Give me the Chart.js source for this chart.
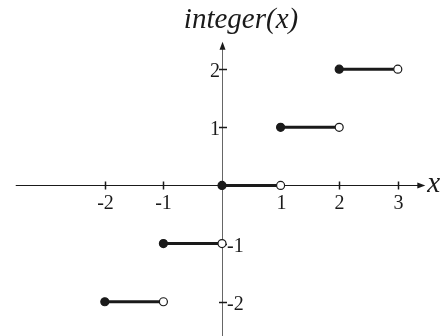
<!DOCTYPE html>
<html lang="en">
<head>
  <meta charset="UTF-8" />
  <title>integer(x)</title>
  <script src="https://cdn.jsdelivr.net/npm/chart.js"></script>
  <style>
    body { margin: 0; background: #fff; }
    canvas#stepChart { display: block; }
  </style>
</head>
<body>
  <canvas id="stepChart" width="445" height="336"></canvas>
  <script>
    // floor steps: each piece runs [start, end) at a constant value
    const stepStarts = [-2, -1, 0, 1, 2];
    const stepEnds = [-1, 0, 1, 2, 3];
    const stepValues = [-2, -1, 0, 1, 2];

    const xTicks = [-2, -1, 1, 2, 3];
    const yTicks = [-2, -1, 1, 2];

    const ink = '#1a1a1a';
    const serif = '"Liberation Serif", "DejaVu Serif", serif';

    const datasets = stepStarts.map((s, i) => ({
      data: [{ x: s, y: stepValues[i] }, { x: stepEnds[i], y: stepValues[i] }],
      showLine: true,
      borderColor: ink,
      borderWidth: 3,
      pointRadius: 4,
      pointBorderWidth: 1.2,
      pointBorderColor: ink,
      pointBackgroundColor: [ink, '#ffffff']
    }));

    // hand-drawn axes through the origin, with arrows and tick labels
    const axesPlugin = {
      id: 'axes',
      beforeDatasetsDraw(chart) {
        const { ctx, scales: { x, y } } = chart;
        const x0 = Math.round(x.getPixelForValue(0));
        const y0 = Math.round(y.getPixelForValue(0));
        const left = x.getPixelForValue(-3.52);
        const right = x.getPixelForValue(3.47);
        const top = y.getPixelForValue(2.47);
        const bottom = y.getPixelForValue(-2.6);
        ctx.save();

        // y axis
        ctx.strokeStyle = '#666';
        ctx.lineWidth = 1;
        ctx.beginPath();
        ctx.moveTo(x0 + 0.5, bottom);
        ctx.lineTo(x0 + 0.5, top + 4);
        ctx.stroke();
        ctx.fillStyle = ink;
        ctx.beginPath();
        ctx.moveTo(x0 + 0.5, top);
        ctx.lineTo(x0 - 2.5, top + 8);
        ctx.lineTo(x0 + 3.5, top + 8);
        ctx.closePath();
        ctx.fill();

        // x axis
        ctx.strokeStyle = ink;
        ctx.beginPath();
        ctx.moveTo(left, y0 + 0.5);
        ctx.lineTo(right - 4, y0 + 0.5);
        ctx.stroke();
        ctx.beginPath();
        ctx.moveTo(right, y0 + 0.5);
        ctx.lineTo(right - 8, y0 - 2.5);
        ctx.lineTo(right - 8, y0 + 3.5);
        ctx.closePath();
        ctx.fill();

        // ticks
        ctx.lineWidth = 1.5;
        ctx.font = '20px ' + serif;
        ctx.textBaseline = 'alphabetic';
        xTicks.forEach(v => {
          const px = Math.round(x.getPixelForValue(v)) + 0.5;
          ctx.beginPath();
          ctx.moveTo(px, y0 - 3.5);
          ctx.lineTo(px, y0 + 4.5);
          ctx.stroke();
          ctx.textAlign = 'center';
          ctx.fillText(String(v), px, y0 + 24);
        });
        yTicks.forEach(v => {
          const py = Math.round(y.getPixelForValue(v)) + 0.5;
          ctx.beginPath();
          ctx.moveTo(x0 - 3, py);
          ctx.lineTo(x0 + 5, py);
          ctx.stroke();
          if (v > 0) {
            ctx.textAlign = 'right';
            ctx.fillText(String(v), x0 - 2, py + 7);
          } else {
            ctx.textAlign = 'left';
            ctx.fillText(String(v), x0 + 5, py + 7);
          }
        });

        // axis names
        ctx.font = 'italic 29px ' + serif;
        ctx.textAlign = 'center';
        ctx.fillText('integer(x)', 241, 28);
        ctx.textAlign = 'left';
        ctx.fillText('x', right + 2, y0 + 7);
        ctx.restore();
      }
    };

    new Chart(document.getElementById('stepChart'), {
      type: 'scatter',
      data: { datasets },
      options: {
        responsive: false,
        animation: false,
        layout: { padding: 0 },
        clip: false,
        scales: {
          x: { type: 'linear', min: -3.7, max: 3.717, display: false },
          y: { type: 'linear', min: -2.5, max: 3.1, display: false }
        },
        plugins: { legend: { display: false }, tooltip: { enabled: false } }
      },
      plugins: [axesPlugin]
    });
  </script>
</body>
</html>
